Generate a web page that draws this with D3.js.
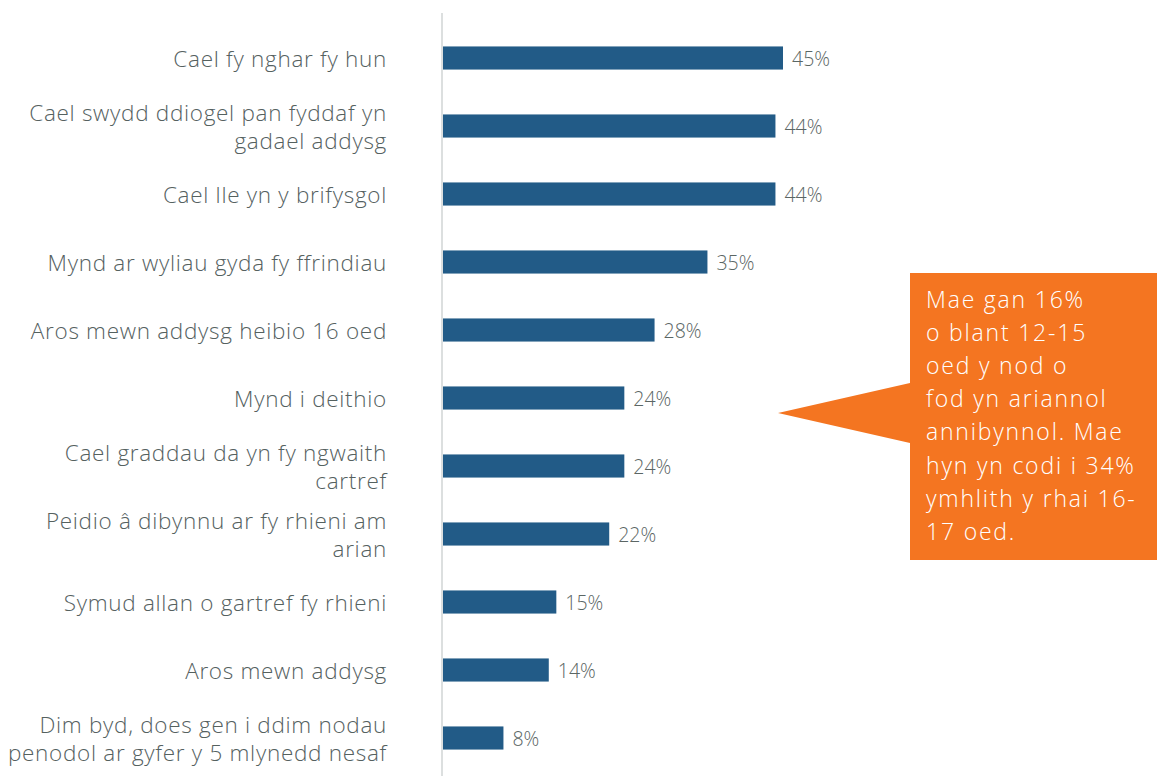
<!DOCTYPE html>
<html><head><meta charset="utf-8">
<script src="https://cdn.jsdelivr.net/npm/d3@7"></script>
<style>
html,body{margin:0;padding:0;background:#fff;}
svg{display:block;}
</style></head>
<body>
<svg id="c" width="1157" height="776"></svg>
<script>
const categories = [
  ["Cael fy nghar fy hun"],
  ["Cael swydd ddiogel pan fyddaf yn","gadael addysg"],
  ["Cael lle yn y brifysgol"],
  ["Mynd ar wyliau gyda fy ffrindiau"],
  ["Aros mewn addysg heibio 16 oed"],
  ["Mynd i deithio"],
  ["Cael graddau da yn fy ngwaith","cartref"],
  ["Peidio â dibynnu ar fy rhieni am","arian"],
  ["Symud allan o gartref fy rhieni"],
  ["Aros mewn addysg"],
  ["Dim byd, does gen i ddim nodau","penodol ar gyfer y 5 mlynedd nesaf"]
];
const values = [45,44,44,35,28,24,24,22,15,14,8];
const calloutLines = ["Mae gan 16%","o blant 12-15","oed y nod o","fod yn ariannol","annibynnol. Mae","hyn yn codi i 34%","ymhlith y rhai 16-","17 oed."];

const svg = d3.select("#c");
const font = "'Open Sans', Lato, sans-serif";
const x = d3.scaleLinear().domain([0,45]).range([443,783]);
const y = d3.scaleBand().domain(d3.range(categories.length)).range([24,772]).paddingInner(0.66).paddingOuter(0.33);

// axis line
svg.append("line").attr("x1",442).attr("x2",442).attr("y1",13).attr("y2",776)
  .attr("stroke","#dcdfdf").attr("stroke-width",2);

// bars
svg.selectAll("rect.bar").data(values).join("rect").attr("class","bar")
  .attr("x",x(0)).attr("y",(d,i)=>y(i)).attr("width",d=>x(d)-x(0)).attr("height",y.bandwidth())
  .attr("fill","#225b87");

// value labels
svg.selectAll("text.val").data(values).join("text").attr("class","val")
  .attr("x",d=>x(d)+9).attr("y",(d,i)=>y(i)+y.bandwidth()/2+8)
  .attr("font-family",font).attr("font-weight",300).attr("font-size",19.5).attr("fill","#5b6664")
  .text(d=>d+"%");

// category labels
const lab = svg.selectAll("text.cat").data(categories).join("text").attr("class","cat")
  .attr("text-anchor","end").attr("font-family",font).attr("font-weight",300).attr("font-size",22.5)
  .attr("letter-spacing",0.7).attr("fill","#55615f");
lab.each(function(lines,i){
  const cy = y(i)+y.bandwidth()/2;
  const n = lines.length;
  d3.select(this).selectAll("tspan").data(lines).join("tspan")
    .attr("x",387).attr("y",(l,j)=>cy+8.5+(j-(n-1)/2)*28)
    .text(l=>l);
});

// callout
svg.append("path")
  .attr("d","M910,273 L1157,273 L1157,560 L910,560 L910,443 L778,413 L910,383 Z")
  .attr("fill","#f47521");
svg.append("text").attr("font-family",font).attr("font-weight",300).attr("font-size",23).attr("letter-spacing",1.8).attr("fill","#fff")
  .selectAll("tspan").data(calloutLines).join("tspan")
  .attr("x",926).attr("y",(d,i)=>308+i*33.1).text(d=>d);
</script>
</body></html>
